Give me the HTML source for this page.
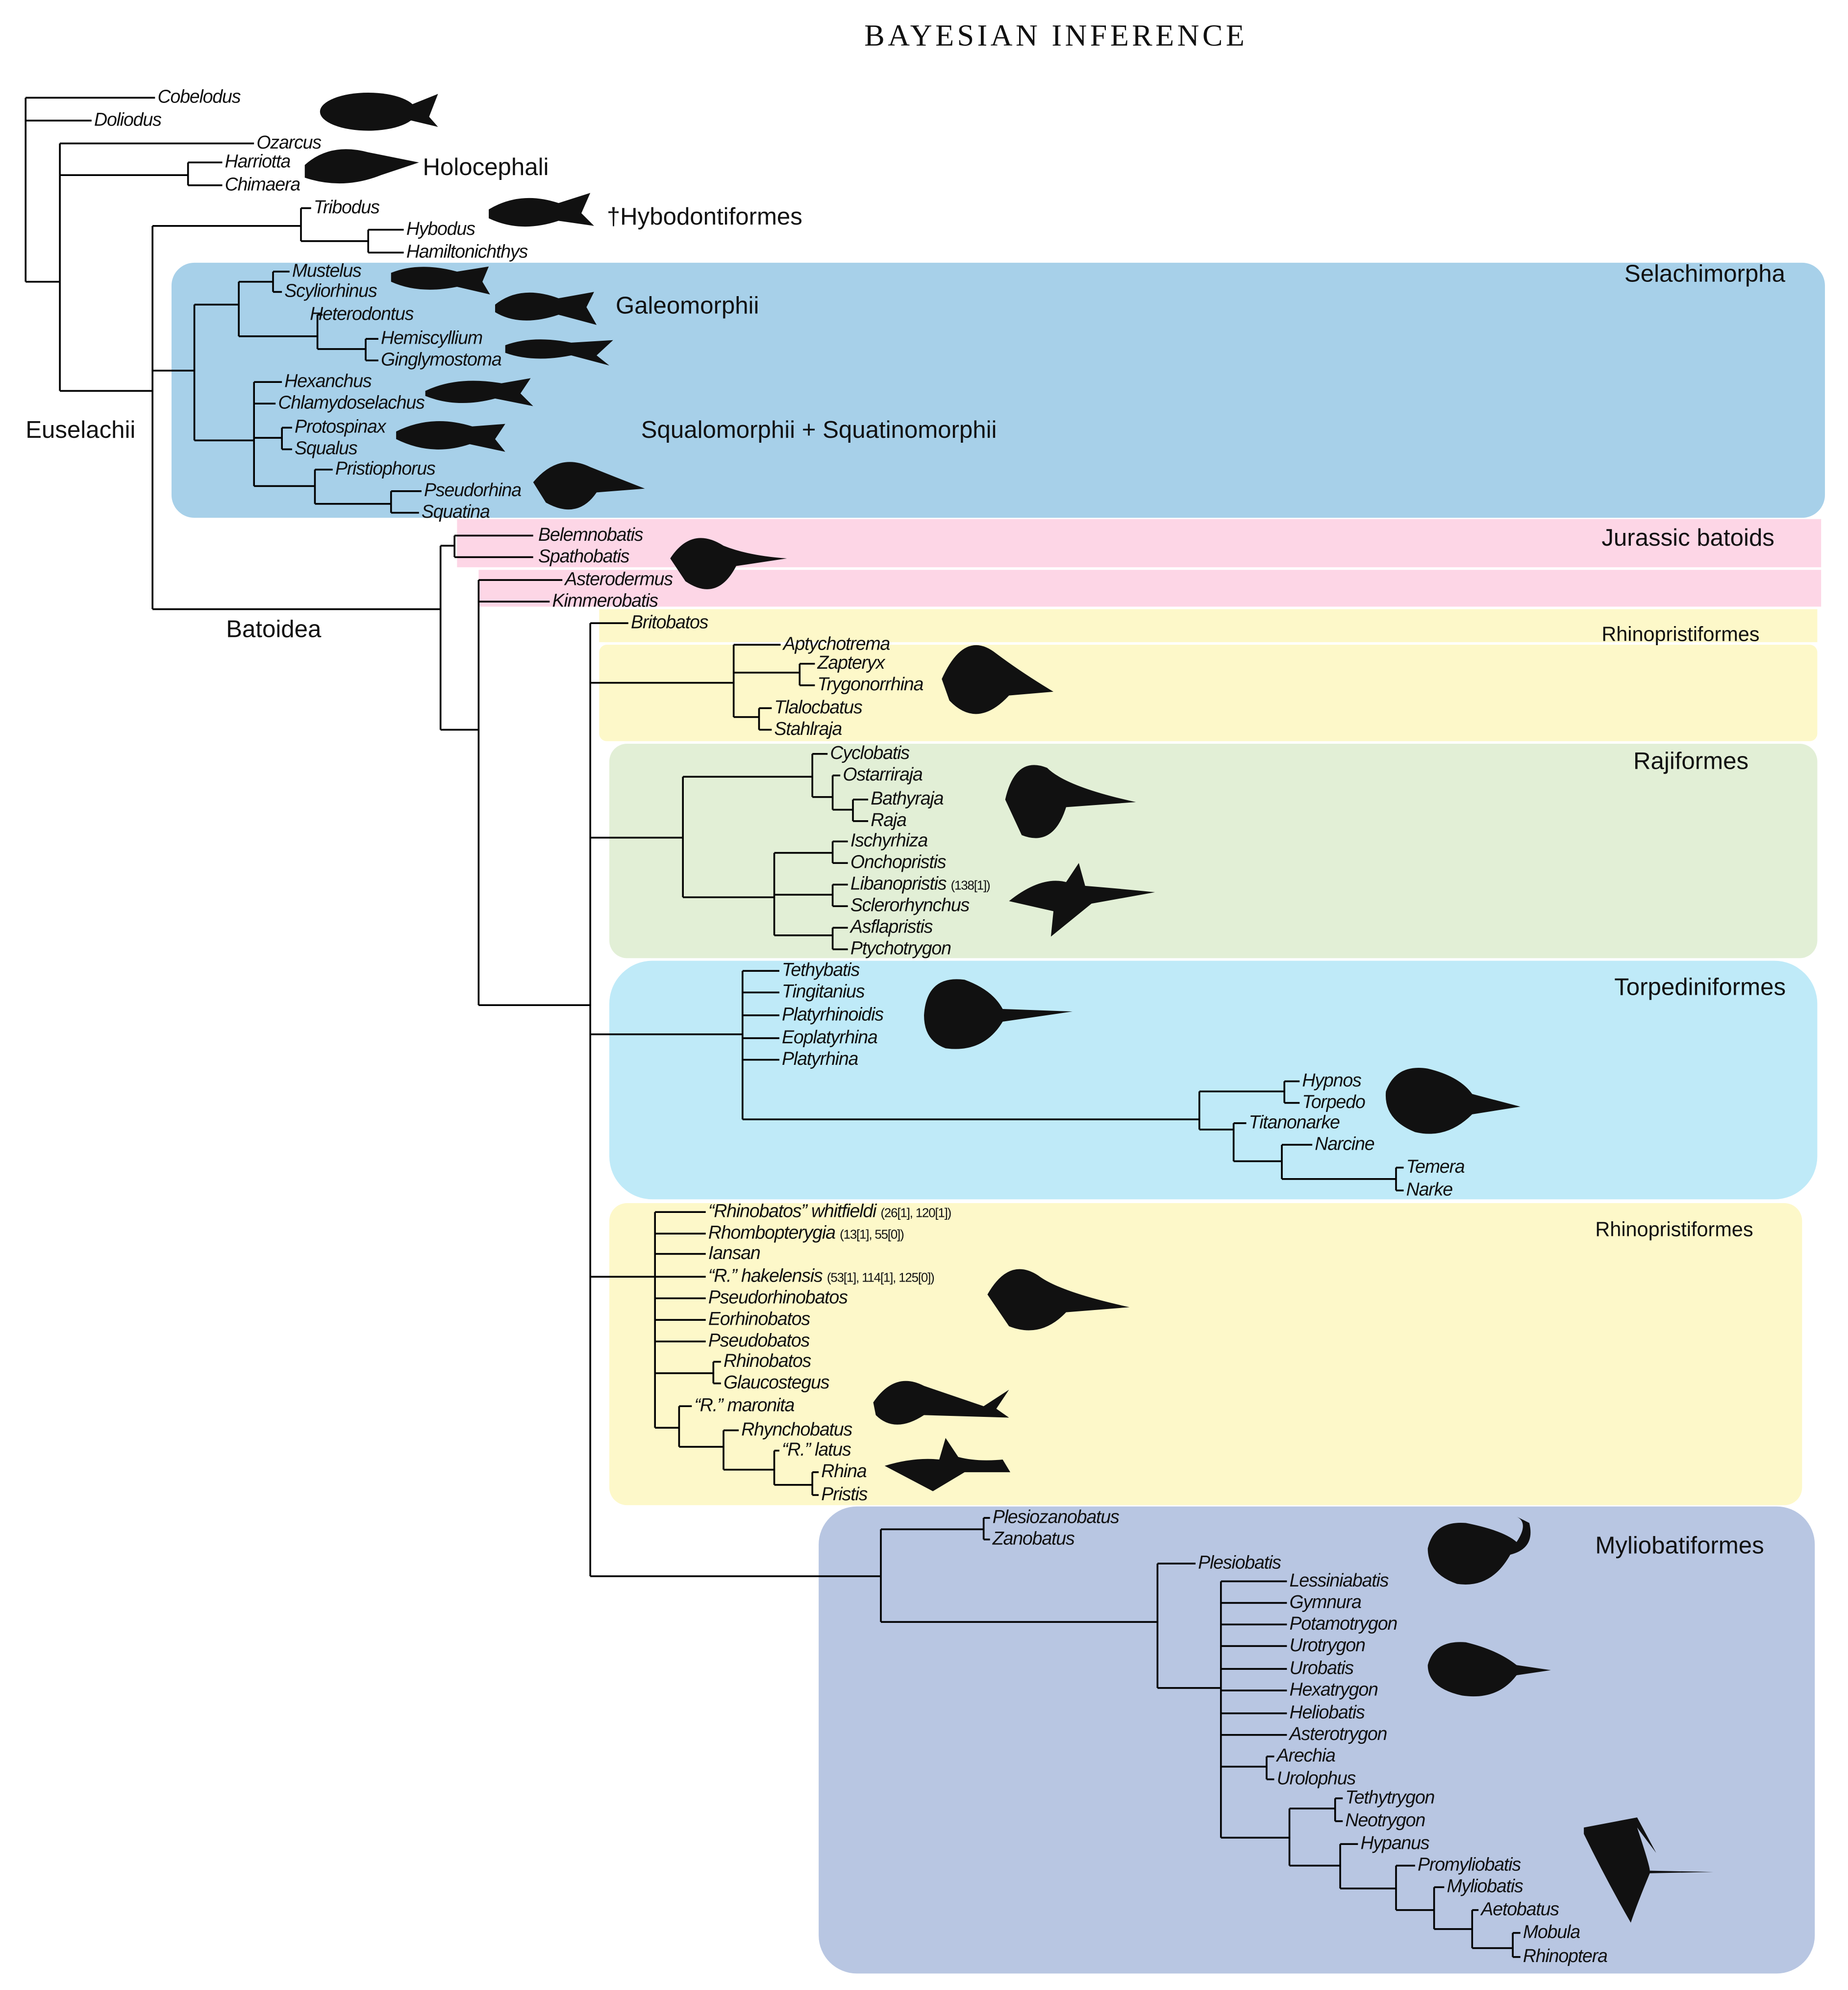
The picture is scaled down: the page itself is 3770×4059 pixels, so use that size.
<!DOCTYPE html>
<html><head><meta charset="utf-8"><style>
html,body{margin:0;padding:0;background:#fff;}
svg{display:block;}
.t{font-family:"Liberation Sans Narrow","Liberation Sans",sans-serif;font-style:italic;font-size:14.5px;fill:#111;letter-spacing:-0.45px;}
.s{font-size:10px;font-style:normal;}
.g{font-family:"Liberation Sans","DejaVu Sans",sans-serif;font-size:19px;fill:#111;}
.g2{font-family:"Liberation Sans","DejaVu Sans",sans-serif;font-size:16px;fill:#111;}
path.l{fill:none;stroke:#000;stroke-width:1.4;}
.f{fill:#111;}
</style></head><body>
<svg width="3770" height="4059" viewBox="0 0 1456 1568" xmlns="http://www.w3.org/2000/svg">
<rect width="1456" height="1568" fill="#fff"/>
<rect x="135" y="207" width="1303" height="201" rx="18" fill="#a7d0e9"/>
<rect x="360" y="409" width="1075" height="38" fill="#fdd6e6"/>
<rect x="377" y="449" width="1058" height="29" fill="#fdd6e6"/>
<rect x="472" y="480" width="960" height="26" fill="#fdf8c9"/>
<rect x="472" y="508" width="960" height="76" rx="6" fill="#fdf8c9"/>
<rect x="480" y="586" width="952" height="169" rx="14" fill="#e2efd6"/>
<rect x="480" y="757" width="952" height="188" rx="34" fill="#bfeaf8"/>
<rect x="480" y="948" width="940" height="238" rx="14" fill="#fdf8c9"/>
<rect x="645" y="1187" width="785" height="368" rx="30" fill="#b8c6e2"/>

<text x="832" y="36" text-anchor="middle" style="font-family:'Liberation Serif',serif;font-size:24px;fill:#111;letter-spacing:2.5px">BAYESIAN INFERENCE</text>

<path class="l" d="
M20 77V222 M20 77H122 M20 95H72 M20 222H47
M47 113V308 M47 113H200 M47 138H148 M148 128V146 M148 128H175 M148 146H175
M47 308H120 M120 178V480 M120 178H237 M237 164V190 M237 164H245 M237 190H290 M290 181V199 M290 181H318 M290 199H318
M120 292H153 M153 240V347 M153 240H188 M188 222V265 M188 222H215 M215 214V230 M215 214H228 M215 230H222
M188 265H250 M250 248V275 M250 248H254 M250 275H288 M288 267V284 M288 267H298 M288 284H298
M153 347H200 M200 301V383 M200 301H222 M200 318H217 M200 345H222 M222 337V354 M222 337H230 M222 354H230
M200 383H248 M248 370V397 M248 370H262 M248 397H308 M308 387V404 M308 387H332 M308 404H330
M120 480H347 M347 430V575 M347 430H358 M358 422V439 M358 422H420 M358 439H420
M347 575H377 M377 457V792 M377 457H443 M377 474H433
M377 792H465 M465 491V1242 M465 491H495
M465 538H578 M578 508V565 M578 508H615 M578 530H630 M630 523V540 M630 523H642 M630 540H642 M578 565H598 M598 558V575 M598 558H608 M598 575H608
M465 660H538 M538 612V707 M538 612H640 M640 594V628 M640 594H652 M640 628H656 M656 611V638 M656 611H662 M656 638H672 M672 630V647 M672 630H684 M672 647H684
M538 707H610 M610 672V737 M610 672H656 M656 663V680 M656 663H668 M656 680H668 M610 705H656 M656 697V714 M656 697H668 M656 714H668 M610 737H656 M656 731V748 M656 731H668 M656 748H668
M465 815H585 M585 765V882 M585 765H614 M585 782H614 M585 800H614 M585 818H614 M585 835H614
M585 882H945 M945 860V890 M945 860H1012 M1012 852V869 M1012 852H1024 M1012 869H1024 M945 890H972 M972 885V915 M972 885H982 M972 915H1010 M1010 902V929 M1010 902H1034 M1010 929H1100 M1100 920V938 M1100 920H1106 M1100 938H1106
M465 1006H516 M516 955V1125 M516 955H556 M516 972H556 M516 988H556 M516 1006H556 M516 1023H556 M516 1040H556 M516 1057H556 M516 1082H562 M562 1073V1090 M562 1073H568 M562 1090H568
M516 1125H535 M535 1108V1140 M535 1108H545 M535 1140H570 M570 1127V1158 M570 1127H582 M570 1158H610 M610 1143V1170 M610 1143H614 M610 1170H640 M640 1160V1178 M640 1160H645 M640 1178H645
M465 1242H694 M694 1205V1278 M694 1205H775 M775 1196V1213 M775 1196H780 M775 1213H780
M694 1278H912 M912 1232V1330 M912 1232H942 M912 1330H962 M962 1246V1448
M962 1246H1014 M962 1263H1014 M962 1280H1014 M962 1297H1014 M962 1315H1014 M962 1332H1014 M962 1350H1014 M962 1367H1014
M962 1392H998 M998 1384V1402 M998 1384H1004 M998 1402H1004
M962 1448H1016 M1016 1425V1470 M1016 1425H1052 M1052 1417V1435 M1052 1417H1058 M1052 1435H1058 M1016 1470H1056 M1056 1453V1488 M1056 1453H1070 M1056 1488H1100 M1100 1470V1505 M1100 1470H1115 M1100 1505H1130 M1130 1487V1520 M1130 1487H1138 M1130 1520H1160 M1160 1505V1535 M1160 1505H1165 M1160 1535H1192 M1192 1523V1542 M1192 1523H1198 M1192 1542H1198
"/>

<g class="t">
<text x="124" y="81">Cobelodus</text><text x="74" y="99">Doliodus</text><text x="202" y="117">Ozarcus</text>
<text x="177" y="132">Harriotta</text><text x="177" y="150">Chimaera</text>
<text x="247" y="168">Tribodus</text><text x="320" y="185">Hybodus</text><text x="320" y="203">Hamiltonichthys</text>
<text x="230" y="218">Mustelus</text><text x="224" y="234">Scyliorhinus</text><text x="244" y="252">Heterodontus</text>
<text x="300" y="271">Hemiscyllium</text><text x="300" y="288">Ginglymostoma</text>
<text x="224" y="305">Hexanchus</text><text x="219" y="322">Chlamydoselachus</text><text x="232" y="341">Protospinax</text><text x="232" y="358">Squalus</text>
<text x="264" y="374">Pristiophorus</text><text x="334" y="391">Pseudorhina</text><text x="332" y="408">Squatina</text>
<text x="424" y="426">Belemnobatis</text><text x="424" y="443">Spathobatis</text><text x="445" y="461">Asterodermus</text><text x="435" y="478">Kimmerobatis</text>
<text x="497" y="495">Britobatos</text><text x="617" y="512">Aptychotrema</text><text x="644" y="527">Zapteryx</text><text x="644" y="544">Trygonorrhina</text>
<text x="610" y="562">Tlalocbatus</text><text x="610" y="579">Stahlraja</text>
<text x="654" y="598">Cyclobatis</text><text x="664" y="615">Ostarriraja</text><text x="686" y="634">Bathyraja</text><text x="686" y="651">Raja</text>
<text x="670" y="667">Ischyrhiza</text><text x="670" y="684">Onchopristis</text><text x="670" y="701">Libanopristis <tspan class="s">(138[1])</tspan></text><text x="670" y="718">Sclerorhynchus</text>
<text x="670" y="735">Asflapristis</text><text x="670" y="752">Ptychotrygon</text>
<text x="616" y="769">Tethybatis</text><text x="616" y="786">Tingitanius</text><text x="616" y="804">Platyrhinoidis</text><text x="616" y="822">Eoplatyrhina</text><text x="616" y="839">Platyrhina</text>
<text x="1026" y="856">Hypnos</text><text x="1026" y="873">Torpedo</text><text x="984" y="889">Titanonarke</text><text x="1036" y="906">Narcine</text><text x="1108" y="924">Temera</text><text x="1108" y="942">Narke</text>
<text x="558" y="959">“Rhinobatos” whitfieldi <tspan class="s">(26[1], 120[1])</tspan></text>
<text x="558" y="976">Rhombopterygia <tspan class="s">(13[1], 55[0])</tspan></text>
<text x="558" y="992">Iansan</text>
<text x="558" y="1010">“R.” hakelensis <tspan class="s">(53[1], 114[1], 125[0])</tspan></text>
<text x="558" y="1027">Pseudorhinobatos</text><text x="558" y="1044">Eorhinobatos</text><text x="558" y="1061">Pseudobatos</text>
<text x="570" y="1077">Rhinobatos</text><text x="570" y="1094">Glaucostegus</text>
<text x="547" y="1112">“R.” maronita</text><text x="584" y="1131">Rhynchobatus</text><text x="616" y="1147">“R.” latus</text><text x="647" y="1164">Rhina</text><text x="647" y="1182">Pristis</text>
<text x="782" y="1200">Plesiozanobatus</text><text x="782" y="1217">Zanobatus</text><text x="944" y="1236">Plesiobatis</text>
<text x="1016" y="1250">Lessiniabatis</text><text x="1016" y="1267">Gymnura</text><text x="1016" y="1284">Potamotrygon</text><text x="1016" y="1301">Urotrygon</text>
<text x="1016" y="1319">Urobatis</text><text x="1016" y="1336">Hexatrygon</text><text x="1016" y="1354">Heliobatis</text><text x="1016" y="1371">Asterotrygon</text>
<text x="1006" y="1388">Arechia</text><text x="1006" y="1406">Urolophus</text><text x="1060" y="1421">Tethytrygon</text><text x="1060" y="1439">Neotrygon</text>
<text x="1072" y="1457">Hypanus</text><text x="1117" y="1474">Promyliobatis</text><text x="1140" y="1491">Myliobatis</text><text x="1167" y="1509">Aetobatus</text><text x="1200" y="1527">Mobula</text><text x="1200" y="1546">Rhinoptera</text>
</g>

<g>
<text class="g" x="333" y="138">Holocephali</text>
<text class="g" x="478" y="177">†Hybodontiformes</text>
<text class="g" x="1280" y="222">Selachimorpha</text>
<text class="g" x="485" y="247">Galeomorphii</text>
<text class="g" x="505" y="345">Squalomorphii + Squatinomorphii</text>
<text class="g" x="20" y="345">Euselachii</text>
<text class="g" x="178" y="502">Batoidea</text>
<text class="g" x="1262" y="430">Jurassic batoids</text>
<text class="g2" x="1262" y="505">Rhinopristiformes</text>
<text class="g" x="1287" y="606">Rajiformes</text>
<text class="g" x="1272" y="784">Torpediniformes</text>
<text class="g2" x="1257" y="974">Rhinopristiformes</text>
<text class="g" x="1257" y="1224">Myliobatiformes</text>
</g>

<g class="f">
<ellipse cx="290" cy="88" rx="38" ry="15"/><path d="M320 84L345 74L338 92L345 100L320 94Z"/>
<path d="M240 130Q260 112 290 120L330 128L300 138Q270 150 240 140Z"/>
<path d="M385 165Q410 150 440 160L465 152L458 168L468 178L440 174Q410 184 385 172Z"/>
<path d="M308 215Q330 206 360 214L385 210L380 222L386 232L360 226Q330 232 308 222Z"/>
<path d="M390 240Q410 224 440 235L468 230L462 242L470 256L440 248Q410 258 390 246Z"/>
<path d="M398 272Q420 264 450 270L483 268L470 280L480 288L450 280Q420 286 398 278Z"/>
<path d="M335 308Q360 296 395 302L418 298L410 310L420 320L390 314Q360 322 335 312Z"/>
<path d="M312 340Q340 326 372 336L398 334L390 346L398 356L370 350Q340 360 312 346Z"/>
<path d="M420 380Q440 356 465 368Q490 378 508 385L470 388Q455 410 430 396Z"/>
<path d="M528 440Q545 414 570 430Q590 438 620 440L580 446Q565 475 540 458Z"/>
<path d="M742 535Q760 495 785 515Q805 530 830 545L795 548Q770 575 748 552Z"/>
<path d="M792 630Q800 595 825 605Q840 620 895 632L840 636Q830 668 805 658Z"/>
<path d="M795 710Q820 690 840 695L850 680L855 698Q880 700 910 703L860 712L828 738L830 718Z"/>
<path d="M728 800Q730 768 760 772Q782 780 790 795L845 797L790 805Q775 830 745 826Q728 820 728 800Z"/>
<path d="M1092 860Q1100 838 1125 842Q1150 848 1160 862L1198 872L1160 878Q1140 898 1115 892Q1090 882 1092 860Z"/>
<path d="M778 1020Q795 990 818 1005Q835 1018 890 1030L840 1034Q820 1055 795 1045Z"/>
<path d="M688 1105Q705 1080 728 1092L775 1108L795 1095L785 1110L795 1117L728 1115Q705 1130 690 1115Z"/>
<path d="M697 1155Q720 1148 740 1150L745 1133L755 1148Q770 1152 790 1150L796 1160L760 1160L735 1175Z"/>
<path d="M1125 1220Q1130 1198 1155 1200Q1185 1206 1195 1215Q1205 1200 1195 1195L1205 1200Q1210 1220 1190 1225Q1175 1252 1148 1248Q1125 1240 1125 1220Z"/>
<path d="M1125 1312Q1130 1292 1155 1294Q1180 1300 1195 1312L1222 1316L1195 1320Q1180 1340 1152 1336Q1125 1330 1125 1312Z"/>
<path d="M1248 1440L1290 1432L1305 1460L1290 1440Q1300 1470 1300 1474L1350 1475L1300 1476Q1290 1500 1285 1515Q1265 1480 1248 1445Z"/>
</g>
</svg>
</body></html>
